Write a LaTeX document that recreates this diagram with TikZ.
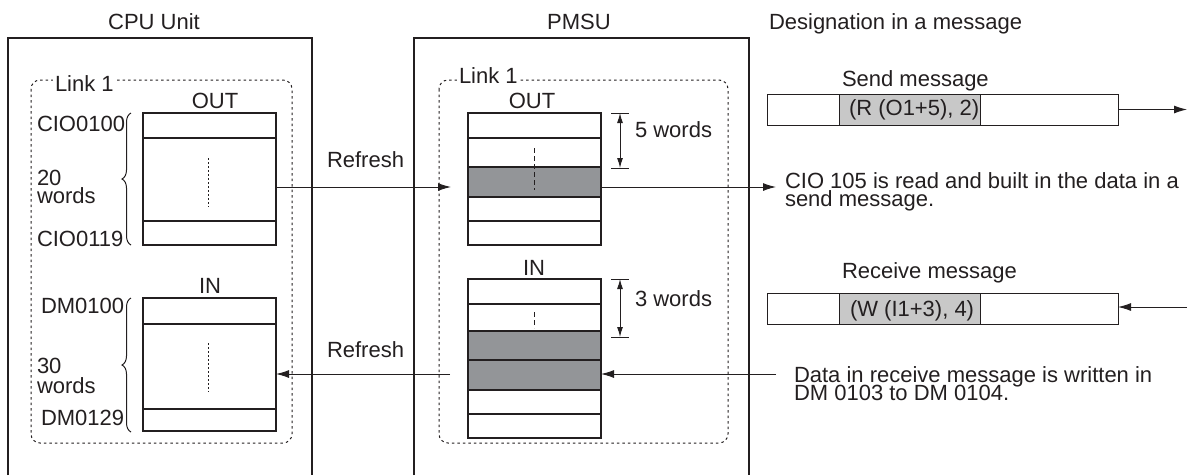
\documentclass[tikz,border=0pt]{standalone}
\usepackage{fontspec}
\setmainfont{Liberation Sans}
\usetikzlibrary{arrows.meta,decorations.pathreplacing}
\definecolor{ink}{HTML}{231F20}
\definecolor{shade}{HTML}{939598}
\definecolor{lshade}{HTML}{C8C8C8}
\begin{document}
\begin{tikzpicture}[x=1pt,y=-1pt,
  every node/.style={inner sep=0pt, outer sep=0pt, font=\fontsize{22}{18}\selectfont, text=ink},
  lbl/.style={anchor=base west},
  clbl/.style={anchor=base},
  frame/.style={draw=ink, line width=1.1pt},
  linkbox/.style={draw=ink, line width=1pt, dash pattern=on 2.5pt off 3pt, rounded corners=9pt},
  cell/.style={draw=ink, line width=1.1pt, minimum width=133pt, anchor=north west},
  msgbox/.style={draw=ink, line width=1pt, minimum height=31pt, anchor=north west},
  conn/.style={draw=ink, line width=1pt, -{Latex[length=13pt,width=8pt]}},
  dimarrow/.style={draw=ink, line width=1pt, {Latex[length=10pt,width=6pt]}-{Latex[length=10pt,width=6pt]}},
  tick/.style={draw=ink, line width=1pt},
  dotv/.style={draw=ink, line width=0.8pt, dash pattern=on 1.5pt off 2.5pt},
  dashv/.style={draw=ink, line width=0.9pt, dash pattern=on 5pt off 3pt},
  brc/.style={draw=ink, line width=1pt, decorate, decoration={brace, amplitude=9pt}},
]
\useasboundingbox (0,0) rectangle (1187,475);

% titles
\node[clbl] (tcpu) at (154,29) {CPU Unit};
\node[clbl] (tpmsu) at (579,29) {PMSU};
\node[lbl] (tdes) at (769,29) {Designation in a message};

% unit frames (open at the bottom)
\draw[frame] (8,475) -- (8,38) -- (312,38) -- (312,475);
\draw[frame] (414,475) -- (414,38) -- (749,38) -- (749,475);

% link areas
\draw[linkbox] (31,80) rectangle (292,443);
\draw[linkbox] (439,80) rectangle (728,443);
\node[lbl, fill=white, inner xsep=2pt] (lk1) at (53,91) {Link 1};
\node[lbl, fill=white, inner xsep=2pt] (lk2) at (457,83) {Link 1};

% CPU OUT area
\node[clbl] (cout) at (215,108) {OUT};
\node[cell, minimum height=25pt] (co1) at (143,113) {};
\node[cell, minimum height=83pt] (co2) at (143,138) {};
\node[cell, minimum height=24pt] (co3) at (143,221) {};
\draw[dotv] (208,158) -- (208,207);
\node[lbl] (cio100) at (37,131) {CIO0100};
\node[lbl] (n20) at (37,185) {20};
\node[lbl] (w20) at (37,203) {words};
\node[lbl] (cio119) at (37,246) {CIO0119};
\draw[brc] (131,245) -- (131,113);

% CPU IN area
\node[clbl] (cin) at (210,293) {IN};
\node[cell, minimum height=26pt] (ci1) at (143,298) {};
\node[cell, minimum height=85pt] (ci2) at (143,324) {};
\node[cell, minimum height=22pt] (ci3) at (143,409) {};
\draw[dotv] (208,343) -- (208,392);
\node[lbl] (dm100) at (41,313) {DM0100};
\node[lbl] (n30) at (37,373) {30};
\node[lbl] (w30) at (37,393) {words};
\node[lbl] (dm129) at (41,425) {DM0129};
\draw[brc] (131,432) -- (131,298);

% PMSU OUT area
\node[clbl] (pout) at (532,108) {OUT};
\node[cell, minimum height=25pt] (po1) at (468,113) {};
\node[cell, minimum height=29pt] (po2) at (468,138) {};
\node[cell, minimum height=30pt, fill=shade] (po3) at (468,167) {};
\node[cell, minimum height=24pt] (po4) at (468,197) {};
\node[cell, minimum height=24pt] (po5) at (468,221) {};
\draw[dashv] (534,148) -- (534,190);

% PMSU IN area
\node[clbl] (pin) at (534,275) {IN};
\node[cell, minimum height=25pt] (pi1) at (468,279) {};
\node[cell, minimum height=27pt] (pi2) at (468,304) {};
\node[cell, minimum height=29pt, fill=shade] (pi3) at (468,331) {};
\node[cell, minimum height=30pt, fill=shade] (pi4) at (468,360) {};
\node[cell, minimum height=24pt] (pi5) at (468,390) {};
\node[cell, minimum height=24pt] (pi6) at (468,414) {};
\draw[dashv] (534,312) -- (534,328);

% word-count dimensions
\coordinate (d5t) at (620,113);
\coordinate (d5b) at (620,168);
\draw[dimarrow] (d5t) -- (d5b);
\draw[tick] ([xshift=-9pt]d5t) -- ([xshift=9pt]d5t);
\draw[tick] ([xshift=-9pt]d5b) -- ([xshift=9pt]d5b);
\node[lbl] (w5) at (635,137) {5 words};
\coordinate (d3t) at (620,279);
\coordinate (d3b) at (620,337);
\draw[dimarrow] (d3t) -- (d3b);
\draw[tick] ([xshift=-9pt]d3t) -- ([xshift=9pt]d3t);
\draw[tick] ([xshift=-9pt]d3b) -- ([xshift=9pt]d3b);
\node[lbl] (w3) at (635,306) {3 words};

% refresh arrows
\node[lbl] (rf1) at (327,167) {Refresh};
\node[lbl] (rf2) at (327,357) {Refresh};
\coordinate (r1tip) at (451,187);
\draw[conn] (co2.east |- r1tip) -- (r1tip);
\coordinate (r2start) at (450,374);
\draw[conn] (r2start) -- (ci2.east |- r2start);

% to / from the messages
\coordinate (sendtip) at (776,187);
\draw[conn] (po3.east |- sendtip) -- (sendtip);
\node[lbl] (sendl1) at (785,188) {CIO 105 is read and built in the data in a};
\node[lbl] (sendl2) at (785,206) {send message.};
\coordinate (rcvstart) at (776,374);
\draw[conn] (rcvstart) -- (pi4.east |- rcvstart);
\node[lbl] (rcvl1) at (794,382) {Data in receive message is written in};
\node[lbl] (rcvl2) at (794,400) {DM 0103 to DM 0104.};

% send message
\node[lbl] (tsend) at (842,86) {Send message};
\node[msgbox, minimum width=351pt] (sendbox) at (767,94) {};
\node[msgbox, minimum width=141pt, fill=lshade] (sendfld) at (839,94) {};
\node[lbl] (sendtxt) at (849,115) {(R (O1+5), 2)};
\coordinate (sendout) at (1187,109.5);
\draw[conn] (sendbox.east) -- (sendout);

% receive message
\node[lbl] (trcv) at (842,278) {Receive message};
\node[msgbox, minimum width=351pt] (rcvbox) at (767,293) {};
\node[msgbox, minimum width=141pt, fill=lshade] (rcvfld) at (839,293) {};
\node[lbl] (rcvtxt) at (850,316) {(W (I1+3), 4)};
\coordinate (rcvin) at (1187,307);
\draw[conn] (rcvin) -- (rcvbox.east |- rcvin);
\end{tikzpicture}
\end{document}
